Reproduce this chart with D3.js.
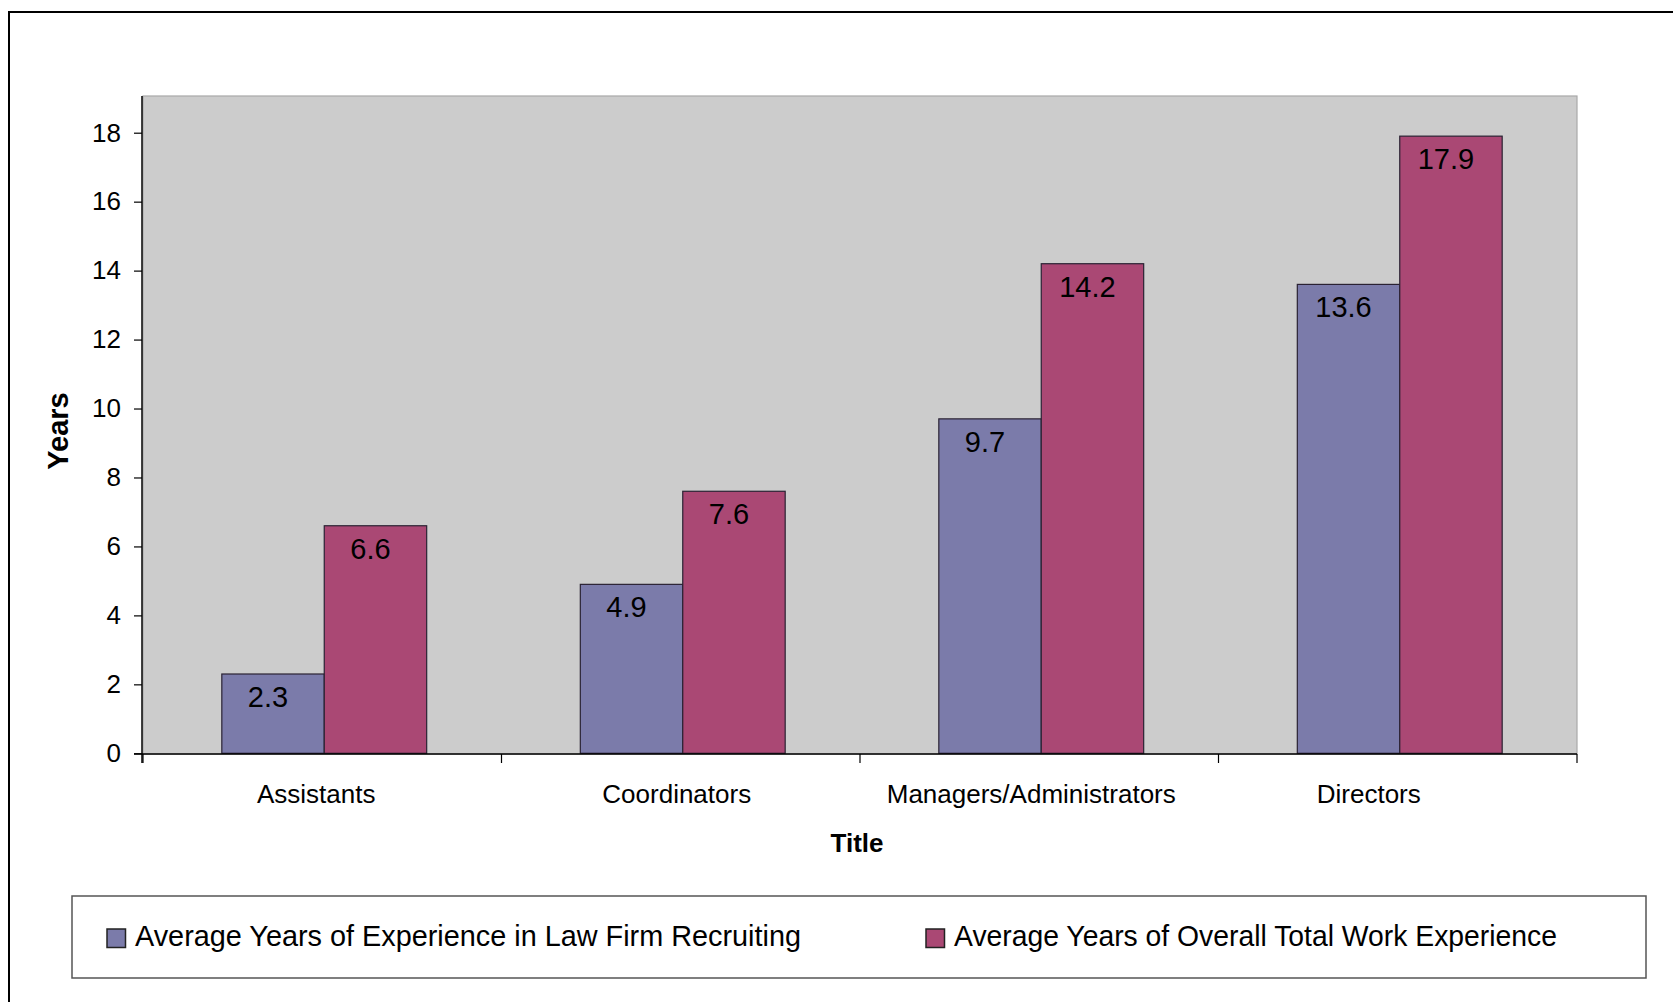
<!DOCTYPE html>
<html>
<head>
<meta charset="utf-8">
<script src="https://cdn.jsdelivr.net/npm/d3@7"></script>
<style>
  html, body { margin: 0; padding: 0; background: #fff; }
  svg { display: block; font-family: "Liberation Sans", Arial, sans-serif; }
</style>
</head>
<body>
<svg id="chart" width="1673" height="1002"></svg>
<script>
const categories = ["Assistants", "Coordinators", "Managers/Administrators", "Directors"];
const seriesNames = ["Average Years of Experience in Law Firm Recruiting", "Average Years of Overall Total Work Experience"];
const recruitingYears = [2.3, 4.9, 9.7, 13.6];
const totalYears = [6.6, 7.6, 14.2, 17.9];
const yTicks = [0, 2, 4, 6, 8, 10, 12, 14, 16, 18];
const seriesColors = ["#7b7baa", "#aa4874"];

const svg = d3.select("#chart");

// outer border (cut off right/bottom)
svg.append("rect").attr("x", 9).attr("y", 12).attr("width", 1700).attr("height", 1100)
  .attr("fill", "none").attr("stroke", "#000").attr("stroke-width", 2);

const plot = { left: 143, right: 1577, top: 96, bottom: 754 };

// plot area
svg.append("rect").attr("x", plot.left).attr("y", plot.top)
  .attr("width", plot.right - plot.left).attr("height", plot.bottom - plot.top)
  .attr("fill", "#cccccc").attr("stroke", "#a8a8a8").attr("stroke-width", 1.2);

const x0 = d3.scaleBand().domain(categories).range([plot.left, plot.right]).paddingInner(0).paddingOuter(0);
const groupW = x0.bandwidth() / 3.5 * 2;
const x1 = d3.scaleBand().domain([0, 1]).range([0, groupW]);
const y = d3.scaleLinear().domain([0, 18]).range([753.3, 132.7]);

const data = categories.map((c, i) => ({ cat: c, vals: [recruitingYears[i], totalYears[i]] }));

const groups = svg.append("g").selectAll("g").data(data).join("g")
  .attr("transform", d => `translate(${x0(d.cat) + (x0.bandwidth() - groupW) / 2 + 2},0)`);

groups.selectAll("rect").data(d => d.vals.map((v, k) => ({ v, k }))).join("rect")
  .attr("x", d => x1(d.k)).attr("y", d => y(d.v))
  .attr("width", x1.bandwidth()).attr("height", d => y(0) - y(d.v))
  .attr("fill", d => seriesColors[d.k]).attr("stroke", "#2a2233").attr("stroke-width", 1.2);

groups.selectAll("text").data(d => d.vals.map((v, k) => ({ v, k }))).join("text")
  .attr("x", d => x1(d.k) + x1.bandwidth() / 2 - 5).attr("y", d => y(d.v) + 33)
  .attr("text-anchor", "middle").attr("font-size", 29).attr("fill", "#000")
  .text(d => d.v.toFixed(1));

// Y axis
const yAxis = d3.axisLeft(y).tickValues(yTicks).tickSize(8).tickPadding(13).tickFormat(d3.format("d"));
const yg = svg.append("g").attr("transform", `translate(${plot.left - 1},0)`).call(yAxis);
yg.select(".domain").remove();
yg.selectAll(".tick line").attr("stroke", "#000").attr("stroke-width", 1.2);
yg.selectAll(".tick text").attr("font-size", 26).attr("fill", "#000")
  .attr("font-family", "Liberation Sans, Arial, sans-serif");
svg.append("line").attr("x1", plot.left - 1).attr("x2", plot.left - 1)
  .attr("y1", plot.top).attr("y2", plot.bottom + 9).attr("stroke", "#000").attr("stroke-width", 1.5);

// X axis
const boundaries = categories.map(c => x0(c)).concat([plot.right]);
svg.append("line").attr("x1", plot.left - 9).attr("x2", plot.right)
  .attr("y1", plot.bottom).attr("y2", plot.bottom).attr("stroke", "#000").attr("stroke-width", 1.5);
svg.append("g").selectAll("line").data(boundaries).join("line")
  .attr("x1", d => d).attr("x2", d => d).attr("y1", plot.bottom).attr("y2", plot.bottom + 9)
  .attr("stroke", "#000").attr("stroke-width", 1.2);
const labelShift = [0, 2, -2, -23];
svg.append("g").selectAll("text").data(categories).join("text")
  .attr("x", (d, i) => x0(d) + x0.bandwidth() / 2 - 6 + labelShift[i]).attr("y", 802.5)
  .attr("text-anchor", "middle").attr("font-size", 26).attr("fill", "#000")
  .text(d => d);

// Axis titles
svg.append("text").attr("x", 857).attr("y", 852).attr("text-anchor", "middle")
  .attr("font-size", 26).attr("font-weight", "bold").text("Title");
svg.append("text").attr("transform", "translate(68,431) rotate(-90)").attr("text-anchor", "middle")
  .attr("font-size", 29).attr("font-weight", "bold").text("Years");

// Legend
svg.append("rect").attr("x", 72).attr("y", 896).attr("width", 1574).attr("height", 82)
  .attr("fill", "#fff").attr("stroke", "#555").attr("stroke-width", 1.5);
const legendX = [107, 926];
const legendTextW = [666, 603];
const leg = svg.append("g").selectAll("g").data(seriesNames).join("g")
  .attr("transform", (d, i) => `translate(${legendX[i]},929)`);
leg.append("rect").attr("x", 0).attr("y", 0).attr("width", 18.5).attr("height", 18.5)
  .attr("fill", (d, i) => seriesColors[i]).attr("stroke", "#222").attr("stroke-width", 1.5);
leg.append("text").attr("x", 28).attr("y", 17).attr("font-size", 29).attr("fill", "#000")
  .attr("textLength", (d, i) => legendTextW[i]).attr("lengthAdjust", "spacingAndGlyphs")
  .text(d => d);
</script>
</body>
</html>
